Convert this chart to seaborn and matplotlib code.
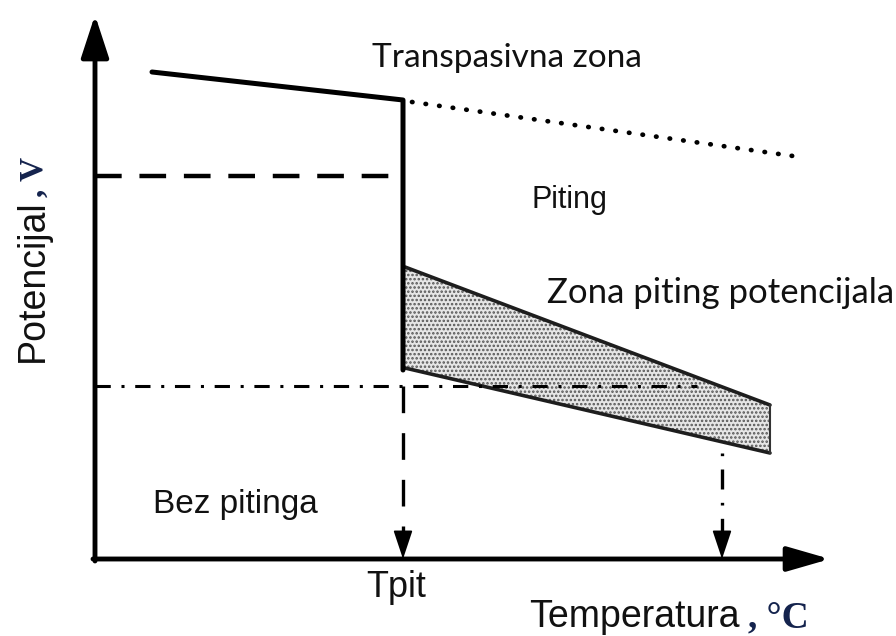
import numpy as np
import matplotlib
matplotlib.use("Agg")
import matplotlib.pyplot as plt
import seaborn as sns

# schematic units: temperature (x) and potential (y), arbitrary scale
T_top = [5.7, 30.8, 30.8]          # breakdown line, then vertical drop at Tpit
E_top = [48.7, 45.9, 18.9]
T_trans = [31.7, 70.5]             # dotted transpassive line
E_trans = [45.7, 40.2]
T_crit = [0.0, 29.5]               # dashed horizontal
E_crit = [38.3, 38.3]
T_prot = [0.0, 60.2]               # dash-dot horizontal
E_prot = [17.3, 17.3]
band_T = [31.0, 67.5]              # zone of pitting potentials
band_hi = [29.2, 15.4]
band_lo = [19.1, 10.6]
T_pit = 30.8
T_max = 62.7
T_axis_end = 73.5
E_axis_end = 54.4

sns.set_style("white")
fig = plt.figure(figsize=(8.96, 6.36), dpi=100)
ax = fig.add_axes([0, 0, 1, 1])
ax.set_xlim(-9.5, 80.1)
ax.set_ylim(-7.7, 55.9)
ax.axis("off")

def seg(x, y, color="k", **kw):
    sns.lineplot(x=x, y=y, ax=ax, estimator=None, sort=False, color=color, legend=False, **kw)

# shaded band (stippled)
plt.rcParams["hatch.linewidth"] = 1.2
ax.fill_between(band_T, band_lo, band_hi, facecolor="#e6e6e6", edgecolor="#555555",
                hatch="....", linewidth=0, zorder=1)
seg(band_T, band_hi, lw=2.6, color="#1e1e1e")
seg(band_T, band_lo, lw=2.6, color="#1e1e1e")
seg([band_T[1], band_T[1]], [band_hi[1], band_lo[1]], lw=1.5, color="#333333")

# main lines
seg(T_top, E_top, lw=3.6)
seg(T_trans, E_trans, lw=3.4, dashes=(0.1, 2.8), dash_capstyle="round")
seg(T_crit, E_crit, lw=3.2, dashes=(6.0, 4.0))
seg(T_prot, E_prot, lw=2.2, dashes=(5, 3.5, 1, 3.5))

# drops to the temperature axis
seg([T_pit, T_pit], [E_prot[0], 2.6], lw=2.4, dashes=(8, 6))
seg([T_max, T_max], [band_lo[1], 2.6], lw=2.4, dashes=(0.8, 4, 6, 4))
for tx in [T_pit, T_max]:
    ax.annotate("", xy=(tx, 0), xytext=(tx, 2.7),
                arrowprops=dict(arrowstyle="-|>,head_length=1.8,head_width=0.6",
                                mutation_scale=10, lw=1.2, color="k",
                                shrinkA=0, shrinkB=0))

# axes with arrows
ax.annotate("", xy=(0, E_axis_end), xytext=(0, -0.2),
            arrowprops=dict(arrowstyle="-|>,head_length=2.6,head_width=0.85",
                            mutation_scale=10, lw=3.5, color="k",
                            shrinkA=0, shrinkB=0))
ax.annotate("", xy=(T_axis_end, 0), xytext=(-0.2, 0),
            arrowprops=dict(arrowstyle="-|>,head_length=2.6,head_width=0.75",
                            mutation_scale=10, lw=3.5, color="k",
                            shrinkA=0, shrinkB=0))

# labels
calibri = ["Lato", "DejaVu Sans"]
arial = ["Liberation Sans", "DejaVu Sans"]
serif = ["Liberation Serif", "DejaVu Serif"]
ax.text(27.7, 49.2, "Transpasivna zona", family=calibri, fontsize=24, color="#111111",
        va="baseline", ha="left")
ax.text(47.4, 35.1, "Piting", family=arial, fontsize=22, color="#111111",
        va="baseline", ha="center")
ax.text(45.2, 25.6, "Zona piting potencijala", family=calibri, fontsize=25, color="#111111",
        va="baseline", ha="left")
ax.text(5.8, 4.6, "Bez pitinga", family=arial, fontsize=24, color="#111111",
        va="baseline", ha="left")
ax.text(30.1, -3.8, "Tpit", family=arial, fontsize=26, color="#111111",
        va="baseline", ha="center")
ax.text(43.4, -6.8, "Temperatura", family=arial, fontsize=27, color="#111111",
        va="baseline", ha="left")
ax.text(65.3, -6.8, ", °C", family=serif, fontweight="bold", fontsize=27, color="#14234d",
        va="baseline", ha="left")
ax.text(-5.2, 19.7, "Potencijal", family=arial, fontsize=27, color="#111111",
        rotation=90, rotation_mode="anchor", va="baseline", ha="left")
ax.text(-5.2, 36.2, ", V", family=serif, fontweight="bold", fontsize=24, color="#14234d",
        rotation=90, rotation_mode="anchor", va="baseline", ha="left")

fig.savefig("out.png", dpi=100)
